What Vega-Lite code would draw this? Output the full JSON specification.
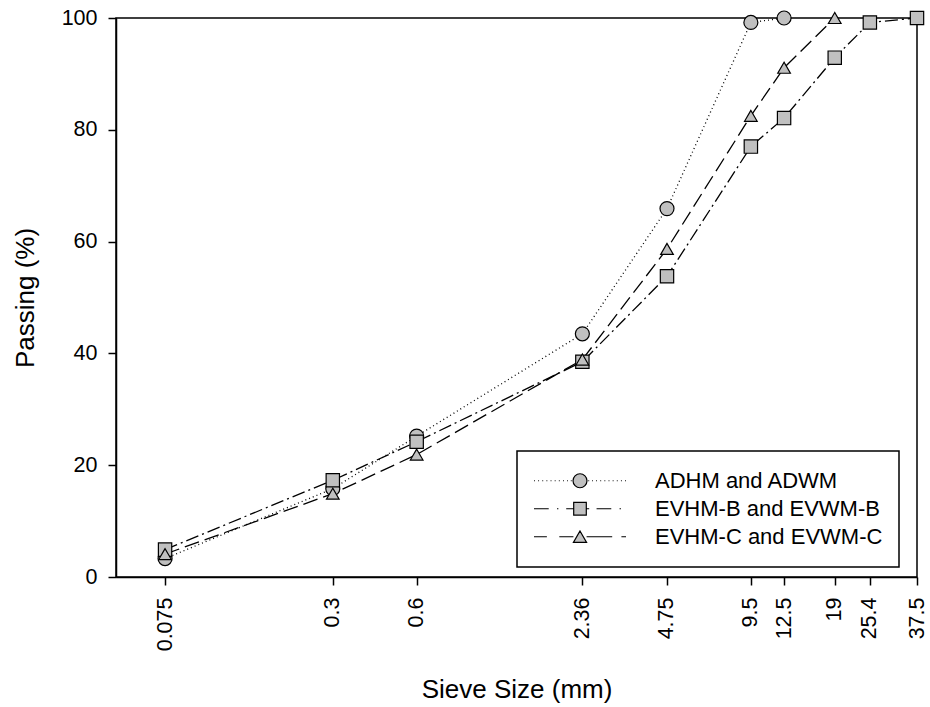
{
  "$schema": "https://vega.github.io/schema/vega-lite/v6.json",
  "width": 801,
  "height": 559,
  "autosize": {"type": "none"},
  "padding": {"left": 116, "top": 18, "right": 13, "bottom": 130},
  "background": "white",
  "config": {
    "font": "Liberation Sans",
    "view": {"stroke": "black", "strokeWidth": 1.5},
    "axis": {
      "domainColor": "black", "domainWidth": 1.5,
      "tickColor": "black", "tickWidth": 1.5, "tickSize": 8,
      "labelColor": "black", "titleColor": "black",
      "labelFont": "Liberation Sans", "titleFont": "Liberation Sans",
      "labelFontSize": 21.5, "titleFontSize": 26, "titleFontWeight": "normal",
      "grid": false
    },
    "legend": {
      "labelFont": "Liberation Sans", "labelFontSize": 22, "labelColor": "black",
      "strokeColor": "black", "fillColor": "white", "strokeWidth": 1.5
    }
  },
  "data": {
    "values": [
      {"series": "ADHM and ADWM", "sieve": 0.075, "passing": 3.3},
      {"series": "ADHM and ADWM", "sieve": 0.3, "passing": 15.8},
      {"series": "ADHM and ADWM", "sieve": 0.6, "passing": 25.2},
      {"series": "ADHM and ADWM", "sieve": 2.36, "passing": 43.5},
      {"series": "ADHM and ADWM", "sieve": 4.75, "passing": 65.9},
      {"series": "ADHM and ADWM", "sieve": 9.5, "passing": 99.2},
      {"series": "ADHM and ADWM", "sieve": 12.5, "passing": 100},
      {"series": "EVHM-B and EVWM-B", "sieve": 0.075, "passing": 4.9},
      {"series": "EVHM-B and EVWM-B", "sieve": 0.3, "passing": 17.3},
      {"series": "EVHM-B and EVWM-B", "sieve": 0.6, "passing": 24.2},
      {"series": "EVHM-B and EVWM-B", "sieve": 2.36, "passing": 38.5},
      {"series": "EVHM-B and EVWM-B", "sieve": 4.75, "passing": 53.8},
      {"series": "EVHM-B and EVWM-B", "sieve": 9.5, "passing": 77.0},
      {"series": "EVHM-B and EVWM-B", "sieve": 12.5, "passing": 82.1},
      {"series": "EVHM-B and EVWM-B", "sieve": 19, "passing": 92.9},
      {"series": "EVHM-B and EVWM-B", "sieve": 25.4, "passing": 99.2},
      {"series": "EVHM-B and EVWM-B", "sieve": 37.5, "passing": 100},
      {"series": "EVHM-C and EVWM-C", "sieve": 0.075, "passing": 4.1},
      {"series": "EVHM-C and EVWM-C", "sieve": 0.3, "passing": 14.9},
      {"series": "EVHM-C and EVWM-C", "sieve": 0.6, "passing": 21.9},
      {"series": "EVHM-C and EVWM-C", "sieve": 2.36, "passing": 38.9},
      {"series": "EVHM-C and EVWM-C", "sieve": 4.75, "passing": 58.7},
      {"series": "EVHM-C and EVWM-C", "sieve": 9.5, "passing": 82.5},
      {"series": "EVHM-C and EVWM-C", "sieve": 12.5, "passing": 91.1},
      {"series": "EVHM-C and EVWM-C", "sieve": 19, "passing": 100}
    ]
  },
  "encoding": {
    "x": {
      "field": "sieve", "type": "quantitative",
      "scale": {"type": "log", "domain": [0.05, 37.5], "nice": false},
      "axis": {
        "title": "Sieve Size (mm)",
        "values": [0.075, 0.3, 0.6, 2.36, 4.75, 9.5, 12.5, 19, 25.4, 37.5],
        "labelAngle": -90, "labelPadding": 12, "labelExpr": "'' + datum.value",
        "labelFlush": false, "labelOverlap": false,
        "titleY": 120, "titleBaseline": "alphabetic"
      }
    },
    "y": {
      "field": "passing", "type": "quantitative",
      "scale": {"domain": [0, 100], "nice": false},
      "axis": {
        "title": "Passing (%)",
        "values": [0, 20, 40, 60, 80, 100],
        "labelPadding": 11, "labelFlush": false,
        "titleX": -83, "titleBaseline": "alphabetic"
      }
    }
  },
  "layer": [
    {
      "mark": {"type": "line", "color": "black", "strokeWidth": 1.3},
      "encoding": {
        "strokeDash": {
          "field": "series", "type": "nominal",
          "scale": {"domain": ["ADHM and ADWM", "EVHM-B and EVWM-B", "EVHM-C and EVWM-C"], "range": [[1, 3], [13, 4, 2, 4], [15, 6]]},
          "legend": null
        }
      }
    },
    {
      "mark": {"type": "point", "filled": true, "fill": "#c0c0c0", "stroke": "black", "strokeWidth": 1.2, "opacity": 1},
      "encoding": {
        "shape": {
          "field": "series", "type": "nominal",
          "scale": {"domain": ["ADHM and ADWM", "EVHM-B and EVWM-B", "EVHM-C and EVWM-C"], "range": ["circle", "square", "triangle-up"]},
          "legend": null
        },
        "size": {
          "field": "series", "type": "nominal",
          "scale": {"domain": ["ADHM and ADWM", "EVHM-B and EVWM-B", "EVHM-C and EVWM-C"], "range": [196, 160, 177]},
          "legend": null
        }
      }
    },
    {
      "transform": [{"filter": "false"}],
      "mark": {"type": "point", "filled": true, "fill": "#c0c0c0", "stroke": "black", "strokeWidth": 1.2, "opacity": 1},
      "encoding": {
        "shape": {
          "field": "series", "type": "nominal",
          "scale": {
            "domain": ["ADHM and ADWM", "EVHM-B and EVWM-B", "EVHM-C and EVWM-C"],
            "range": [
              "M-1,0L-0.98,0M-0.91,0L-0.89,0M-0.82,0L-0.8,0M-0.73,0L-0.71,0M-0.64,0L-0.62,0M-0.55,0L-0.53,0M-0.46,0L-0.44,0M-0.37,0L-0.35,0M-0.28,0L-0.26,0M-0.2,0L-0.18,0M0.18,0L0.2,0M0.26,0L0.28,0M0.35,0L0.37,0M0.44,0L0.46,0M0.53,0L0.55,0M0.62,0L0.64,0M0.71,0L0.73,0M0.8,0L0.82,0M0.89,0L0.91,0M0.98,0L1,0M0.152,0A0.152,0.152,0,1,1,-0.152,0A0.152,0.152,0,1,1,0.152,0Z",
              "M-1,0L-0.68,0M-0.5,0L-0.47,0M-0.3,0L-0.137,0M0.137,0L0.2,0M0.36,0L0.68,0M0.86,0L0.89,0M-0.137,-0.137L0.137,-0.137L0.137,0.137L-0.137,0.137Z",
              "M-1,0L-0.72,0M-0.45,0L-0.143,0M0.143,0L0.7,0M0.9,0L1,0M0,-0.124L0.143,0.124L-0.143,0.124Z"
            ]
          },
          "legend": {
            "title": null, "orient": "none", "legendX": 401, "legendY": 433,
            "padding": 16, "symbolSize": 8464, "clipHeight": 27.5, "rowPadding": 0,
            "labelOffset": 28, "labelLimit": 400, "symbolStrokeWidth": 1.2
          }
        }
      }
    }
  ],
  "resolve": {"scale": {"shape": "independent"}}
}
